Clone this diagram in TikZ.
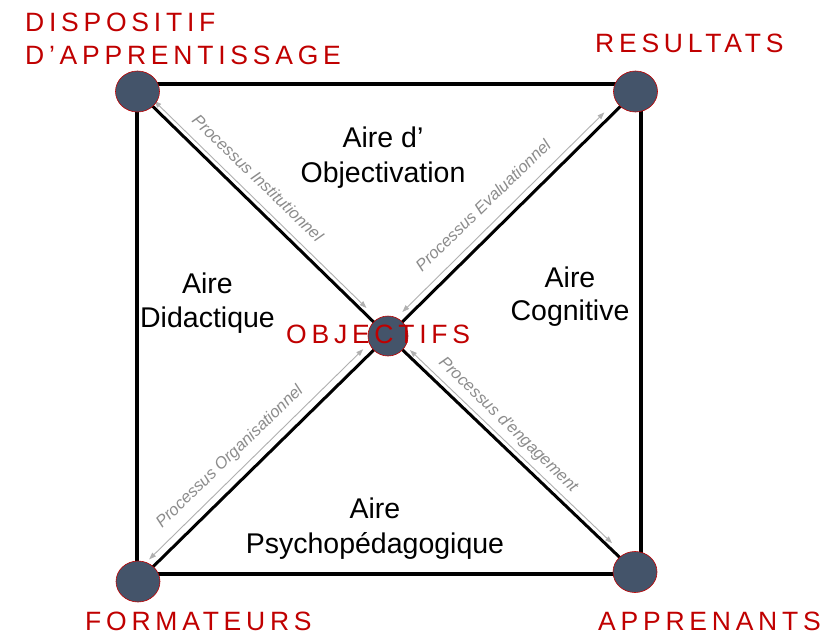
\documentclass[tikz,border=0pt]{standalone}
\usepackage{fontspec}
\setmainfont{Liberation Sans}
\newfontfamily\trackedfont[LetterSpace=18]{Liberation Sans}
\usetikzlibrary{arrows.meta,calc,shapes.geometric}
\pgfdeclarelayer{background}
\pgfsetlayers{background,main}
\definecolor{labred}{HTML}{C00000}
\definecolor{dotfill}{HTML}{44546A}
\definecolor{procgrey}{HTML}{B0B0B0}
\definecolor{proctext}{HTML}{8C8C8C}
\begin{document}
\begin{tikzpicture}[x=1pt,y=-1pt,
  dot/.style={ellipse, fill=dotfill, draw=labred, line width=0.6pt, minimum width=44pt, minimum height=41pt, inner sep=0pt},
  corner/.style={inner sep=0pt, anchor=base west, text=labred, font=\trackedfont\fontsize{26.5}{32}\selectfont},
  area/.style={inner sep=0pt, anchor=base, font=\fontsize{28.5}{34}\selectfont},
  frame/.style={line width=3.5pt},
  diag/.style={line width=3pt},
  proc/.style={draw=procgrey, line width=0.9pt, {Triangle[length=7pt,width=5pt]}-{Triangle[length=7pt,width=5pt]}},
  proclabel/.style={inner sep=0pt, text=proctext, font=\itshape\fontsize{16.5}{20}\selectfont}
]
\useasboundingbox (0,0) rectangle (836,634);

% corner and centre dots
\node[dot] (tl) at (137.5,91.5) {};
\node[dot] (tr) at (635.5,91.5) {};
\node[dot] (bl) at (138,581.5) {};
\node[dot] (br) at (635,572) {};
\node[dot, minimum width=40pt, minimum height=40pt] (c) at (388,336) {};

\begin{pgfonlayer}{background}
  \fill[white] (0,0) rectangle (836,634);
  \draw[frame] (137,84) rectangle (641,574);
  \draw[diag] (tl.center) -- (c.center);
  \draw[diag] (tr.center) -- (c.center);
  \draw[diag] (bl.center) -- (c.center);
  \draw[diag] (c.center) -- (br.center);
  % process arrows
  \draw[proc] ($(tl.center)!0.053!(c.center)!5pt!90:(c.center)$) -- ($(tl.center)!0.90!(c.center)!5pt!90:(c.center)$);
  \draw[proc] ($(tr.center)!0.106!(c.center)!7pt!-90:(c.center)$) -- ($(tr.center)!0.922!(c.center)!7pt!-90:(c.center)$);
  \draw[proc] ($(bl.center)!0.067!(c.center)!8pt!90:(c.center)$) -- ($(bl.center)!0.923!(c.center)!8pt!90:(c.center)$);
  \draw[proc] ($(c.center)!0.075!(br.center)!5pt!90:(br.center)$) -- ($(c.center)!0.893!(br.center)!5pt!90:(br.center)$);
\end{pgfonlayer}

% red labels
\node[corner] (lab1a) at (25,32) {DISPOSITIF};
\node[corner] (lab1b) at (25,65) {D’APPRENTISSAGE};
\node[corner] (lab2) at (595,53) {RESULTATS};
\node[corner] (lab3) at (85,630) {FORMATEURS};
\node[corner] (lab4) at (598,630) {APPRENANTS};
\node[corner] (lab5) at (286,343) {OBJECTIFS};

% area labels
\node[area] (a1a) at (383,147) {Aire d’};
\node[area] (a1b) at (383,182) {Objectivation};
\node[area] (a2a) at (207.5,293) {Aire};
\node[area] (a2b) at (207.5,327) {Didactique};
\node[area] (a3a) at (570,287) {Aire};
\node[area] (a3b) at (570,320) {Cognitive};
\node[area] (a4a) at (375,518) {Aire};
\node[area] (a4b) at (375,553) {Psychopédagogique};

% process labels
\node[proclabel, rotate=-44] (p1) at (258,178) {Processus Institutionnel};
\node[proclabel, rotate=44] (p2) at (483,205) {Processus Evaluationnel};
\node[proclabel, rotate=44] (p3) at (230,457) {Processus Organisationnel};
\node[proclabel, rotate=-44] (p4) at (508,425) {Processus d'engagement};
\end{tikzpicture}
\end{document}
